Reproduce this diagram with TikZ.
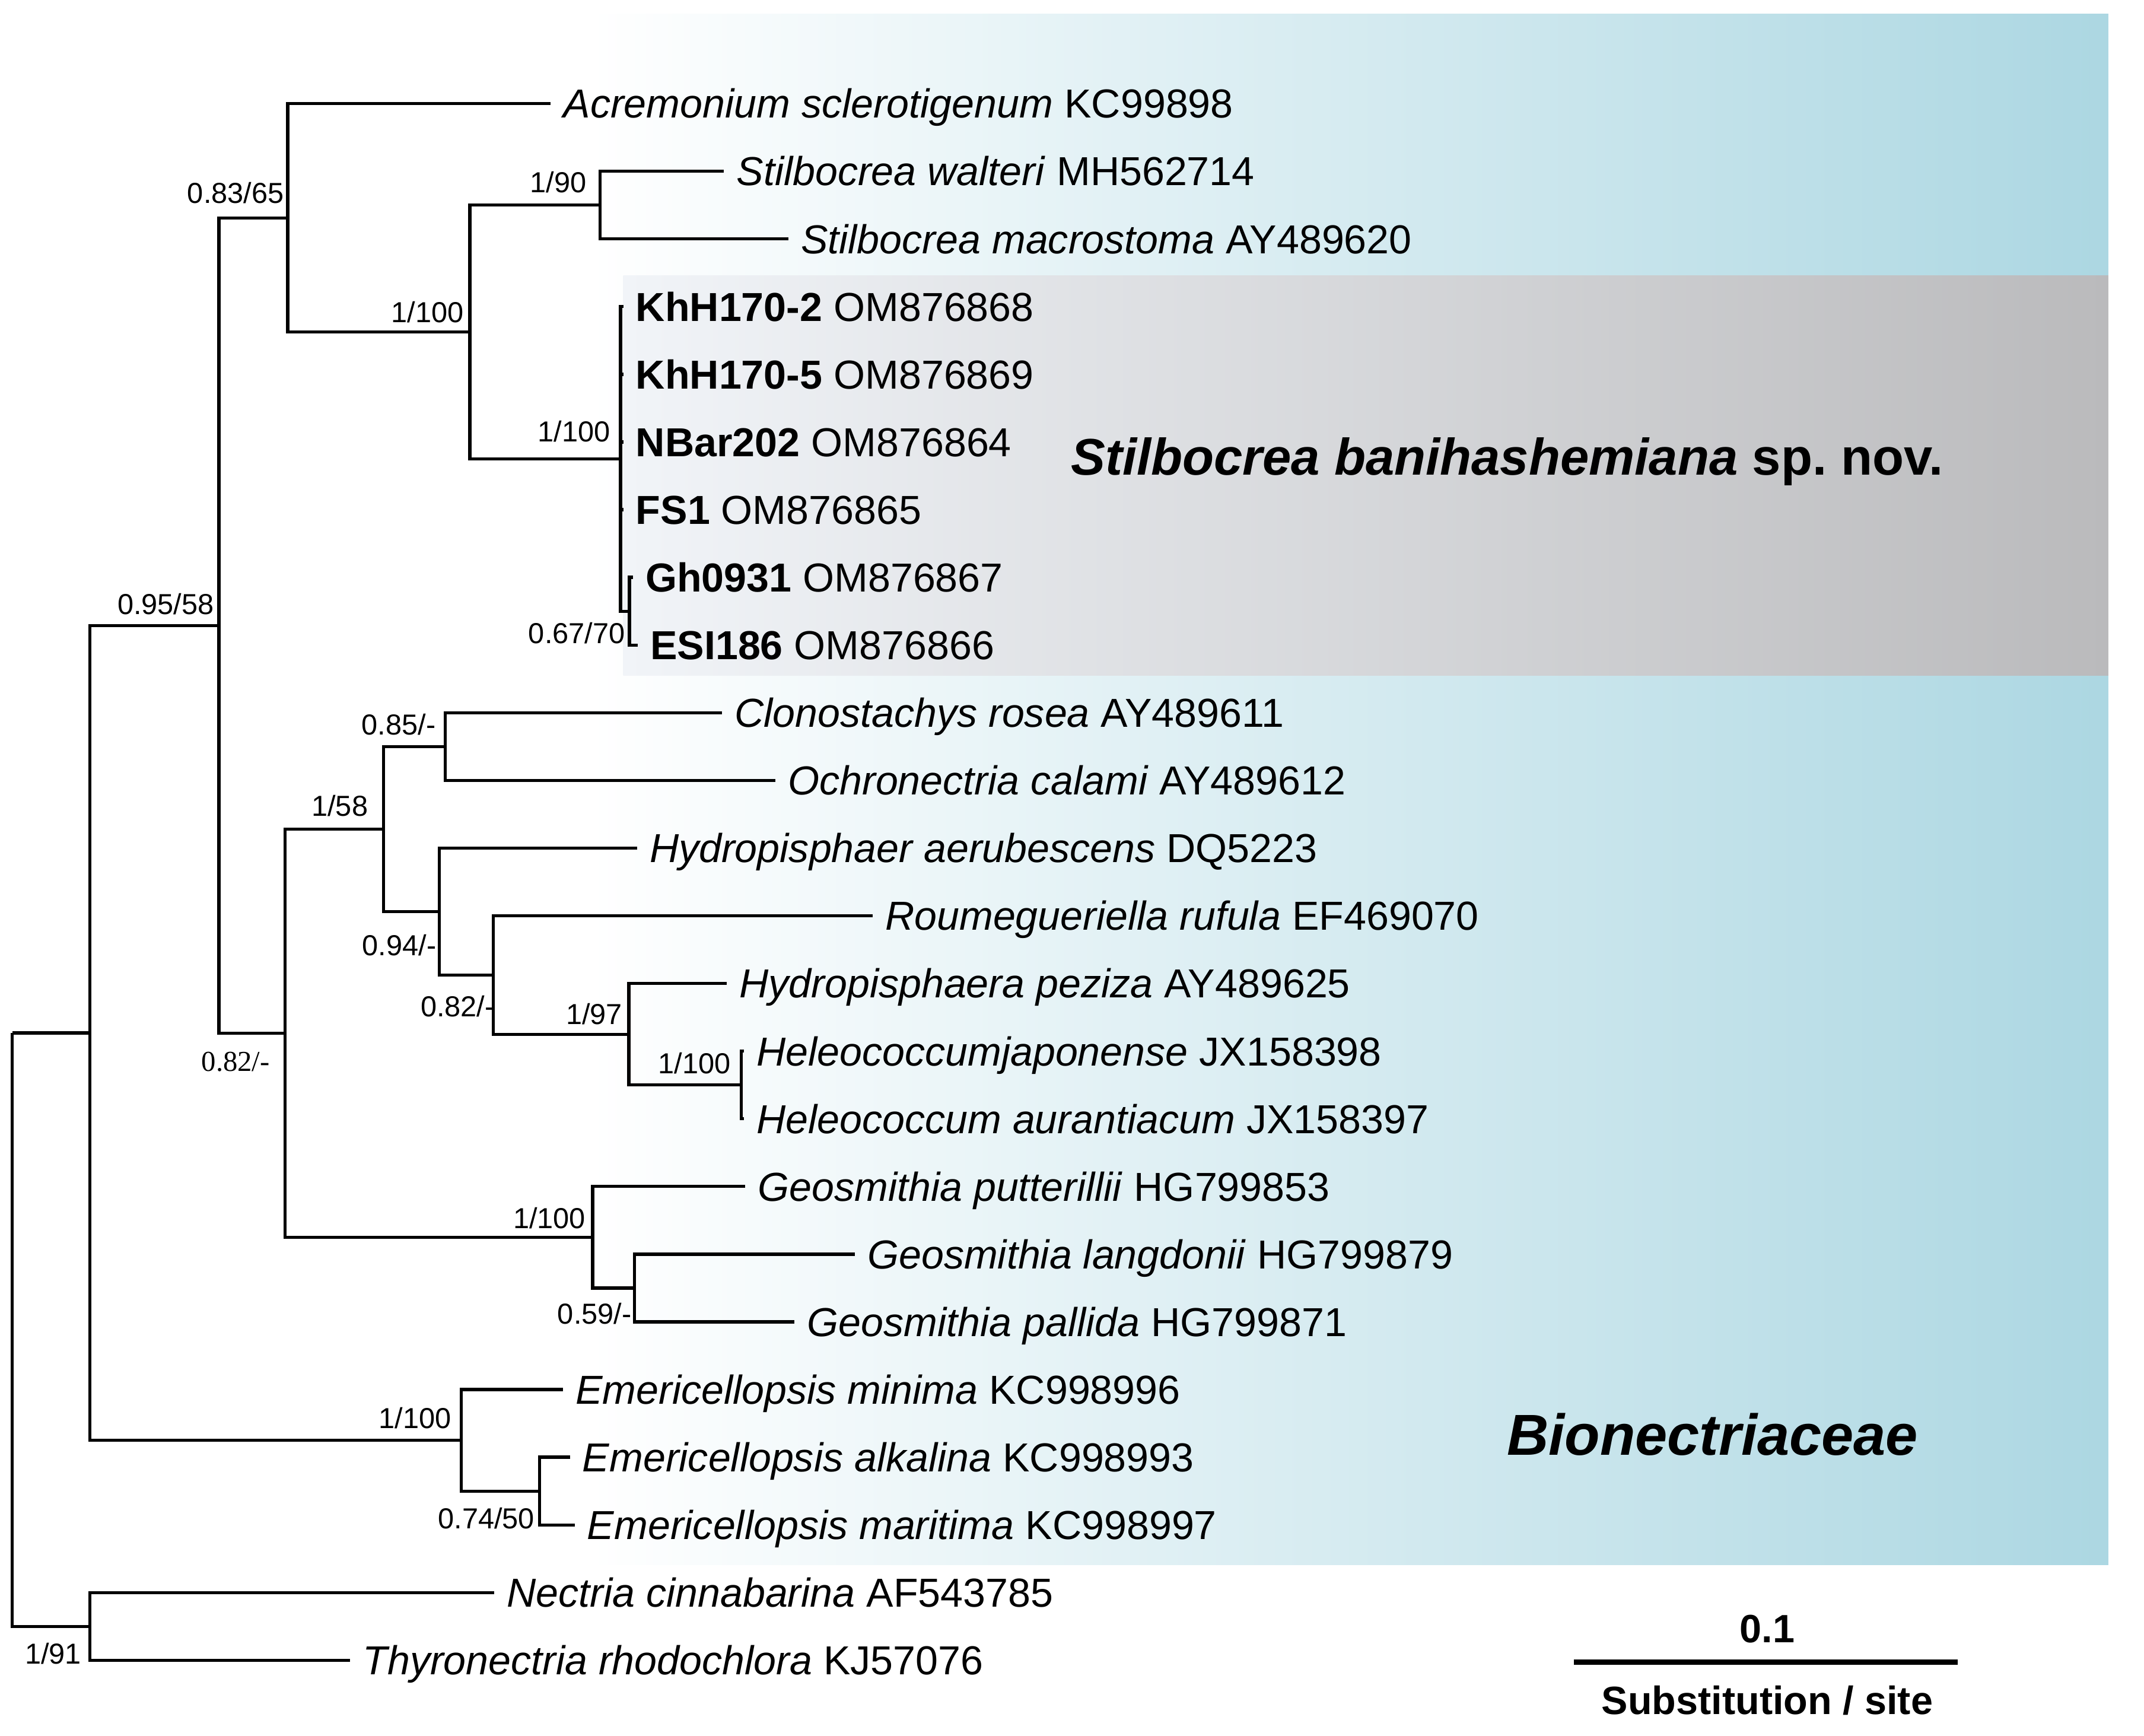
\documentclass[tikz,border=0pt]{standalone}
\usepackage{fontspec}
\setmainfont{Liberation Sans}
\newfontfamily\timesnum{Liberation Serif}
\usetikzlibrary{positioning}
\definecolor{cladeblue}{RGB}{172,215,226}
\definecolor{cladebluemid}{RGB}{206,231,237}
\definecolor{novleft}{RGB}{241,244,248}
\definecolor{novmid}{RGB}{222,224,227}
\definecolor{novright}{RGB}{186,186,188}
\tikzset{
  br/.style={line width=0.65pt},
  tiplab/.style={anchor=west,inner xsep=0.85mm,inner ysep=0pt,text height=6pt,text depth=0pt,font=\fontsize{8.4}{10}\selectfont},
  supp/.style={inner sep=0pt,font=\fontsize{6}{7}\selectfont},
  bigbold/.style={inner sep=0pt,font=\bfseries},
}
\begin{document}
\begin{tikzpicture}[x=0.1mm,y=-0.1mm]
\useasboundingbox (0,0) rectangle (1565,1267);
% shaded clade boxes
\shade[left color=white,middle color=cladebluemid,right color=cladeblue] (430,10) rectangle (1539,1142);
\shade[left color=novleft,middle color=novmid,right color=novright] (455,201) rectangle (1539,493);

% inner nodes of the tree
\coordinate (root) at (9,753.9);
\coordinate (A) at (65.7,753.9);
\coordinate (B) at (159.8,456.5);
\coordinate (C) at (210,159);
\coordinate (F) at (343,242.3);
\coordinate (G) at (438,149.7);
\coordinate (H) at (453,335);
\coordinate (I) at (459.5,446.1);
\coordinate (D) at (208,754);
\coordinate (J) at (280,605.1);
\coordinate (L) at (325,544.9);
\coordinate (M) at (320.6,665.3);
\coordinate (N) at (360,711.6);
\coordinate (P) at (459,754.9);
\coordinate (Q) at (541,791.9);
\coordinate (K) at (432.6,903);
\coordinate (R) at (463,940.1);
\coordinate (E) at (336.7,1051.2);
\coordinate (S) at (394,1088.3);
\coordinate (O) at (65.7,1187.1);

% tips
\node[tiplab] (acre) at (402,75.6) {\textit{Acremonium sclerotigenum} KC99898};
\node[tiplab] (walt) at (528.5,125) {\textit{Stilbocrea walteri} MH562714};
\node[tiplab] (macr) at (575.5,174.4) {\textit{Stilbocrea macrostoma} AY489620};
\node[tiplab] (khh2) at (455,223.8) {\textbf{KhH170-2} OM876868};
\node[tiplab] (khh5) at (455,273.2) {\textbf{KhH170-5} OM876869};
\node[tiplab] (nbar) at (455,322.6) {\textbf{NBar202} OM876864};
\node[tiplab] (fs1) at (455,372) {\textbf{FS1} OM876865};
\node[tiplab] (gh) at (462,421.4) {\textbf{Gh0931} OM876867};
\node[tiplab] (esi) at (465.5,470.8) {\textbf{ESI186} OM876866};
\node[tiplab] (clon) at (527,520.2) {\textit{Clonostachys rosea} AY489611};
\node[tiplab] (ochr) at (566,569.6) {\textit{Ochronectria calami} AY489612};
\node[tiplab] (hyda) at (465,619) {\textit{Hydropisphaer aerubescens} DQ5223};
\node[tiplab] (roum) at (637,668.4) {\textit{Roumegueriella rufula} EF469070};
\node[tiplab] (hydp) at (530.5,717.8) {\textit{Hydropisphaera peziza} AY489625};
\node[tiplab] (heljap) at (543,767.2) {\textit{Heleococcumjaponense} JX158398};
\node[tiplab] (helaur) at (543,816.6) {\textit{Heleococcum aurantiacum} JX158397};
\node[tiplab] (geop) at (544,866) {\textit{Geosmithia putterillii} HG799853};
\node[tiplab] (geol) at (624,915.4) {\textit{Geosmithia langdonii} HG799879};
\node[tiplab] (geopal) at (580,964.8) {\textit{Geosmithia pallida} HG799871};
\node[tiplab] (emin) at (411,1014.2) {\textit{Emericellopsis minima} KC998996};
\node[tiplab] (ealk) at (416,1063.6) {\textit{Emericellopsis alkalina} KC998993};
\node[tiplab] (emar) at (419.5,1113) {\textit{Emericellopsis maritima} KC998997};
\node[tiplab] (nect) at (360.8,1162.4) {\textit{Nectria cinnabarina} AF543785};
\node[tiplab] (thyr) at (255.6,1211.8) {\textit{Thyronectria rhodochlora} KJ57076};

% branches
\draw[br] (root) |- (A) (root) |- (O);
\draw[br] (A) |- (B) (A) |- (E);
\draw[br] (B) |- (C) (B) |- (D);
\draw[br] (C) |- (acre.west) (C) |- (F);
\draw[br] (F) |- (G) (F) |- (H);
\draw[br] (G) |- (walt.west) (G) |- (macr.west);
\draw[br] (H) |- (khh2.west) (H) |- (khh5.west) (H) |- (nbar.west) (H) |- (fs1.west) (H) |- (I);
\draw[br] (I) |- (gh.west) (I) |- (esi.west);
\draw[br] (D) |- (J) (D) |- (K);
\draw[br] (J) |- (L) (J) |- (M);
\draw[br] (L) |- (clon.west) (L) |- (ochr.west);
\draw[br] (M) |- (hyda.west) (M) |- (N);
\draw[br] (N) |- (roum.west) (N) |- (P);
\draw[br] (P) |- (hydp.west) (P) |- (Q);
\draw[br] (Q) |- (heljap.west) (Q) |- (helaur.west);
\draw[br] (K) |- (geop.west) (K) |- (R);
\draw[br] (R) |- (geol.west) (R) |- (geopal.west);
\draw[br] (E) |- (emin.west) (E) |- (S);
\draw[br] (S) |- (ealk.west) (S) |- (emar.west);
\draw[br] (O) |- (nect.west) (O) |- (thyr.west);

% support values
\node[supp] (sB) at (121,441) {0.95/58};
\node[supp] (sC) at (172,141) {0.83/65};
\node[supp] (sG) at (407.5,133) {1/90};
\node[supp] (sF) at (312,228) {1/100};
\node[supp] (sH) at (419,315) {1/100};
\node[supp] (sI) at (421,462) {0.67/70};
\node[supp,font=\fontsize{6}{7}\timesnum] (sD) at (172,775) {0.82/-};
\node[supp] (sJ) at (248,588) {1/58};
\node[supp] (sL) at (291,529) {0.85/-};
\node[supp] (sM) at (291.5,690) {0.94/-};
\node[supp] (sN) at (334,734.5) {0.82/-};
\node[supp] (sP) at (433.7,740) {1/97};
\node[supp] (sQ) at (507,776) {1/100};
\node[supp] (sK) at (401,889) {1/100};
\node[supp] (sR) at (434,959) {0.59/-};
\node[supp] (sE) at (303,1035) {1/100};
\node[supp] (sS) at (355,1108) {0.74/50};
\node[supp] (sO) at (38.8,1207) {1/91};

% clade names
\node[bigbold,anchor=west,font=\fontsize{10.7}{13}\selectfont\bfseries] (novsp) at (781,337) {\textit{Stilbocrea banihashemiana} sp.~nov.};
\node[bigbold,font=\fontsize{12}{14}\selectfont\bfseries\itshape] (fam) at (1250,1047) {Bionectriaceae};

% scale bar
\coordinate (sbl) at (1149,1213);
\coordinate (sbr) at (1429,1213);
\draw[line width=1.1pt] (sbl) -- (sbr);
\node[bigbold,font=\fontsize{8.2}{10}\selectfont\bfseries] (sbval) at (1290,1189) {0.1};
\node[bigbold,font=\fontsize{8.2}{10}\selectfont\bfseries] (sbunit) at (1290,1241) {Substitution / site};
\end{tikzpicture}
\end{document}
